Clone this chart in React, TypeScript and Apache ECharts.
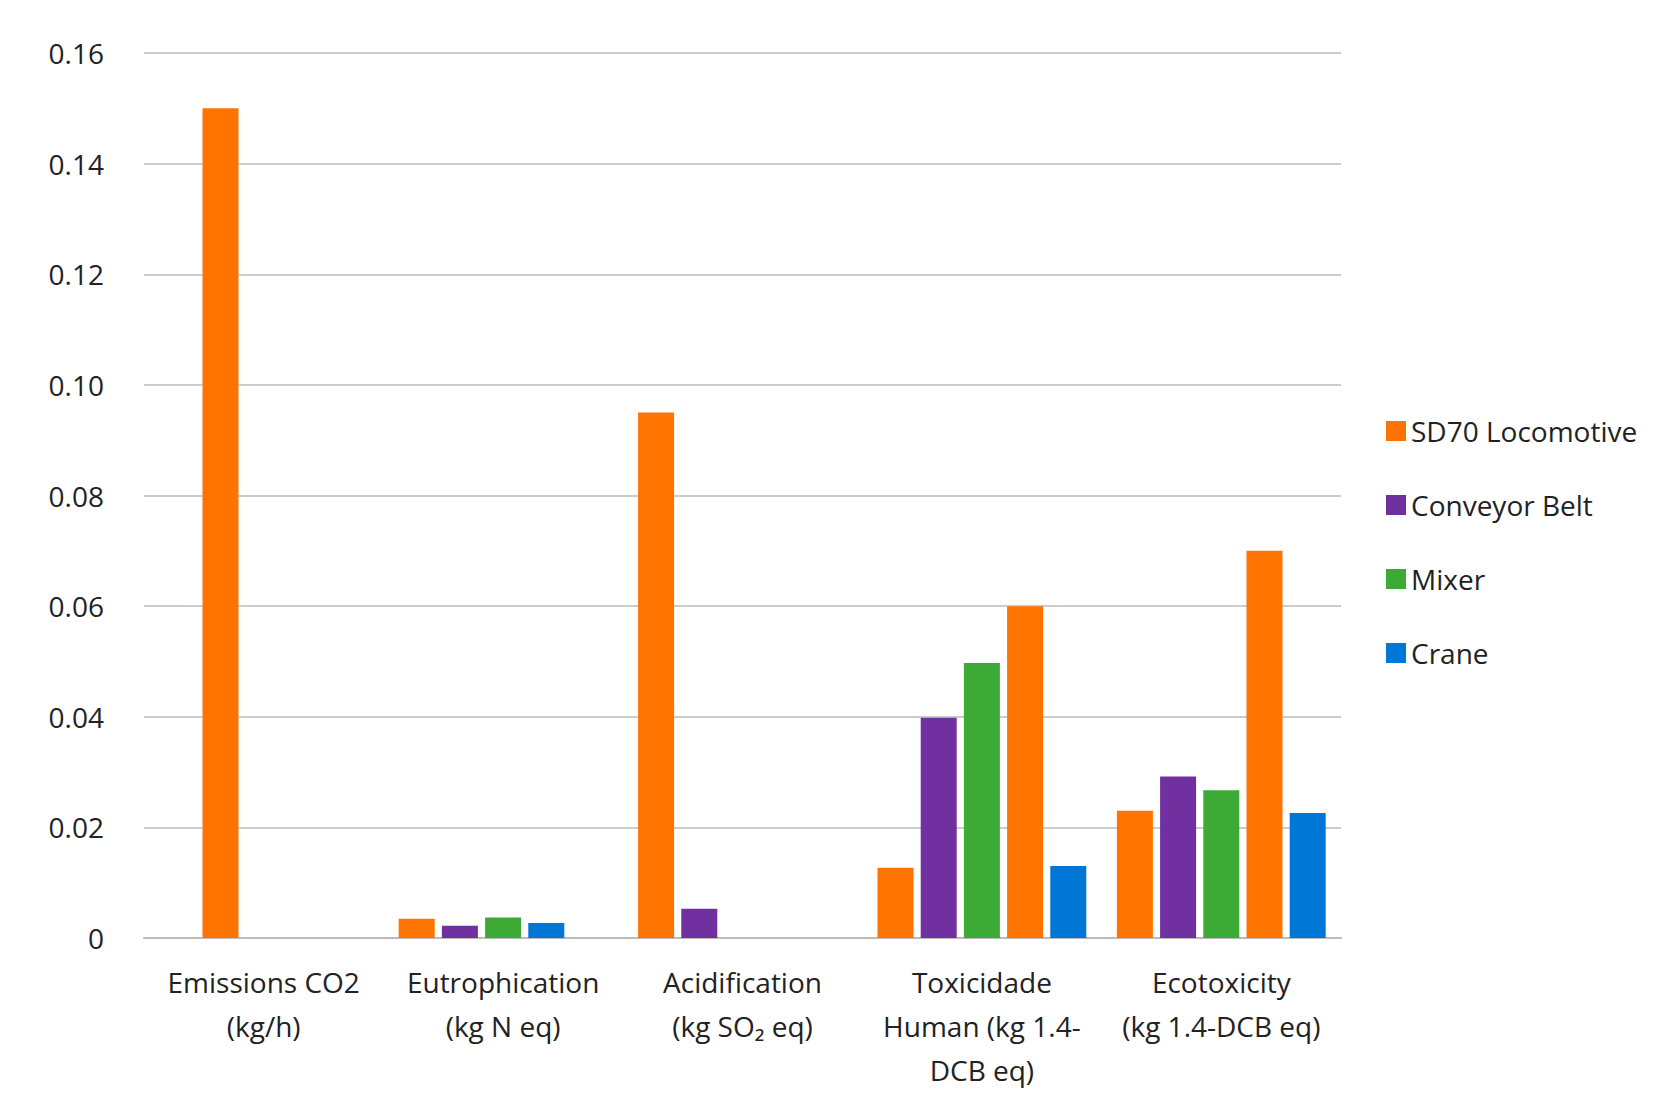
import { useEffect, useRef } from 'react';
import * as echarts from 'echarts';

const categories = [
  'Emissions CO2\n(kg/h)',
  'Eutrophication\n(kg N eq)',
  'Acidification\n(kg SO₂ eq)',
  'Toxicidade\nHuman (kg 1.4-\nDCB eq)',
  'Ecotoxicity\n(kg 1.4-DCB eq)',
];

const legendNames = ['SD70 Locomotive', 'Conveyor Belt', 'Mixer', 'Crane'];

const ORANGE = '#FF7300';
const PURPLE = '#7030A0';
const GREEN = '#3DAA35';
const BLUE = '#0077D6';

// five bar slots per category; null = no bar
const slot1 = [null, 0.0035, 0.095, 0.0127, 0.023];
const slot2 = [0.150, 0.0022, 0.0053, 0.0398, 0.0292];
const slot3 = [null, 0.0037, null, 0.0497, 0.0267];
const slot4 = [null, 0.0027, null, 0.060, 0.070];
const slot5 = [null, null, null, 0.013, 0.0226];

const slotColors = [
  [ORANGE, ORANGE, ORANGE, ORANGE, ORANGE],
  [ORANGE, PURPLE, PURPLE, PURPLE, PURPLE],
  [GREEN, GREEN, GREEN, GREEN, GREEN],
  [ORANGE, BLUE, ORANGE, ORANGE, ORANGE],
  [BLUE, BLUE, BLUE, BLUE, BLUE],
];
const slotNames = ['SD70 Locomotive', 'Conveyor Belt', 'Mixer', 'SD70 Locomotive', 'Crane'];
const slotBase = [ORANGE, PURPLE, GREEN, ORANGE, BLUE];

const App = () => {
  const ref = useRef<HTMLDivElement>(null);

  useEffect(() => {
    if (!ref.current) return;
    const chart = echarts.init(ref.current, null, { renderer: 'svg' });
    const font = 'Open Sans, Noto Sans, sans-serif';
    const slots = [slot1, slot2, slot3, slot4, slot5];
    chart.setOption({
      animation: false,
      textStyle: { fontFamily: font },
      grid: { left: 144, right: 318, top: 53, bottom: 178 },
      legend: {
        data: legendNames.map((n, i) => ({ name: n, itemStyle: { color: [ORANGE, PURPLE, GREEN, BLUE][i] } })),
        orient: 'vertical',
        left: 1381,
        top: 412,
        itemWidth: 20,
        itemHeight: 20,
        itemGap: 46,
        icon: 'rect',
        textStyle: { fontSize: 28, color: '#222', fontFamily: font },
      },
      xAxis: {
        type: 'category',
        data: categories,
        axisTick: { show: false },
        axisLine: { lineStyle: { color: '#bbb', width: 2 } },
        axisLabel: { fontSize: 28, color: '#222', lineHeight: 44, margin: 22, interval: 0 },
      },
      yAxis: {
        type: 'value',
        min: 0,
        max: 0.16,
        interval: 0.02,
        axisLine: { show: false },
        axisTick: { show: false },
        splitLine: { lineStyle: { color: '#ccc', width: 2 } },
        axisLabel: {
          fontSize: 28,
          color: '#222',
          margin: 40,
          formatter: (v: number) => (v === 0 ? '0' : v.toFixed(2)),
        },
      },
      series: slots.map((d, s) => ({
        name: slotNames[s],
        type: 'bar',
        barWidth: 36,
        barGap: '20%',
        itemStyle: { color: slotBase[s] },
        data: d.map((v, i) => (v === null ? null : { value: v, itemStyle: { color: slotColors[s][i] } })),
      })),
    });
    return () => chart.dispose();
  }, []);

  return <div ref={ref} style={{ position: 'fixed', left: 0, top: 0, width: 1659, height: 1116, background: '#fff' }} />;
};

export default App;
